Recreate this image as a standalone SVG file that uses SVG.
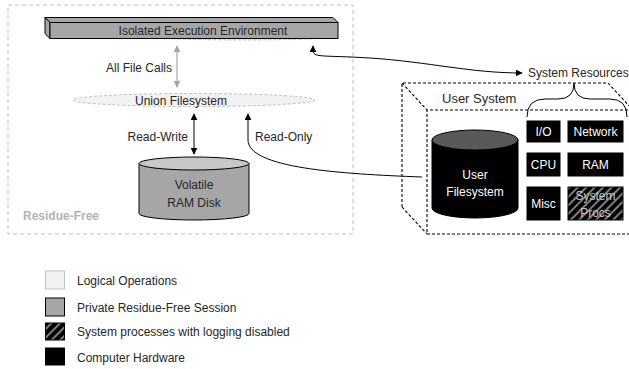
<svg xmlns="http://www.w3.org/2000/svg" width="629" height="369" viewBox="0 0 629 369">
<style>
text{font-family:"Liberation Sans",Arial,sans-serif;font-size:12px;fill:#262626}
.w{fill:#fff}
.c{text-anchor:middle}
.dash{fill:none;stroke:#000;stroke-width:1.1;stroke-dasharray:3 2}
.hw{fill:#000;stroke:#000}
.ln{fill:none;stroke:#000;stroke-width:1}
</style>
<defs>
<marker id="ab" viewBox="0 0 10 10" refX="9" refY="5" markerWidth="7" markerHeight="7" markerUnits="userSpaceOnUse" orient="auto-start-reverse"><path d="M0,0 L10,5 L0,10 z" fill="#000"/></marker>
<marker id="ag" viewBox="0 0 10 10" refX="9" refY="5" markerWidth="7" markerHeight="7" markerUnits="userSpaceOnUse" orient="auto-start-reverse"><path d="M0,0 L10,5 L0,10 z" fill="#a6a6a6"/></marker>
<pattern id="hatch" width="6" height="6" patternUnits="userSpaceOnUse" patternTransform="rotate(45)">
<rect width="6" height="6" fill="#000"/>
<rect x="0" y="0" width="2" height="6" fill="#7f7f7f"/>
</pattern>
</defs>

<g id="residue-free">
<rect x="8" y="5" width="345" height="229" fill="none" stroke="#bfbfbf" stroke-width="1" stroke-dasharray="4 3"/>
<text x="23" y="220" style="font-weight:bold;fill:#b3b3b3">Residue-Free</text>
</g>

<g id="hidden-ellipse">
<ellipse cx="244" cy="36.5" rx="92" ry="3.5" fill="#f2f2f2" stroke="#bfbfbf" stroke-dasharray="3 2"/>
</g>

<g id="isolated-env">
<polygon points="45,17.5 333,17.5 338,22.5 50,22.5" fill="#a6a6a6" stroke="#000" stroke-width="1"/>
<polygon points="45,17.5 50,22.5 50,38.5 45,33.5" fill="#a6a6a6" stroke="#000" stroke-width="1"/>
<rect x="50" y="22.5" width="288" height="16" fill="#a6a6a6" stroke="#000" stroke-width="1"/>
<text x="203" y="34.5" class="c">Isolated Execution Environment</text>
</g>

<g id="union-fs">
<ellipse cx="194" cy="100" rx="121" ry="6.5" fill="#f2f2f2" stroke="#bfbfbf" stroke-dasharray="3 2"/>
<text x="181" y="104.5" class="c">Union Filesystem</text>
</g>

<g id="ram-disk">
<path d="M139,163.5 L139,213.5 A55,6.5 0 0 0 249,213.5 L249,163.5 Z" fill="#a6a6a6" stroke="#000"/>
<ellipse cx="194" cy="163.5" rx="55" ry="6.5" fill="#c8c8c8" stroke="#000"/>
<text x="194" y="189" class="c">Volatile</text>
<text x="194" y="207" class="c">RAM Disk</text>
</g>

<g id="user-system">
<polyline points="402,207 402,83 608,83 633,110" class="dash"/>
<line x1="402" y1="83" x2="427" y2="110" class="dash"/>
<line x1="402" y1="207" x2="427" y2="234" class="dash"/>
<path d="M633,110 L427,110 L427,234 L633,234" class="dash"/>
<text x="442" y="103" style="font-size:13px">User System</text>
<path d="M527,117 Q527,99 545,99 L558,99 Q574,99 574,83 Q574,99 590,99 L610,99 Q627,99 627,117" fill="none" stroke="#000" stroke-width="1"/>
</g>

<g id="user-fs">
<path d="M432,140 L432,208 A43,10 0 0 0 518,208 L518,140 Z" fill="#000" stroke="#000"/>
<ellipse cx="475" cy="140" rx="43" ry="10" fill="#595959" stroke="#000"/>
<text x="475" y="179" class="c w">User</text>
<text x="475" y="196" class="c w">Filesystem</text>
</g>

<g id="io"><rect x="527" y="121" width="33" height="21" class="hw"/><text x="543.5" y="136" class="c w">I/O</text></g>
<g id="network"><rect x="568" y="121" width="55" height="21" class="hw"/><text x="595.5" y="136" class="c w">Network</text></g>
<g id="cpu"><rect x="527" y="153" width="33" height="23" class="hw"/><text x="543.5" y="169" class="c w">CPU</text></g>
<g id="ram"><rect x="568" y="153" width="55" height="23" class="hw"/><text x="595.5" y="169" class="c w">RAM</text></g>
<g id="misc"><rect x="527" y="187" width="33" height="33" class="hw"/><text x="543.5" y="208" class="c w">Misc</text></g>
<g id="system-procs"><rect x="568" y="187" width="55" height="33" fill="url(#hatch)" stroke="#000"/><text x="595.5" y="200" class="c" style="fill:#c8c8c8">System</text><text x="595.5" y="217" class="c" style="fill:#c8c8c8">Procs</text></g>

<g id="connectors">
<line x1="177" y1="46" x2="177" y2="87" fill="none" stroke="#a6a6a6" stroke-width="1.2" marker-start="url(#ag)" marker-end="url(#ag)"/>
<line x1="194" y1="114" x2="194" y2="154" class="ln" marker-start="url(#ab)" marker-end="url(#ab)"/>
<path d="M422,177 C340,174 248,168 248,140 L248,114" class="ln" marker-end="url(#ab)"/>
<path d="M313,46 L313,50 C313,58 320,55 370,58 C430,62 470,73 522,73" class="ln" marker-start="url(#ab)" marker-end="url(#ab)"/>
</g>

<g id="labels">
<text x="172" y="72" style="text-anchor:end">All File Calls</text>
<text x="188" y="141" style="text-anchor:end">Read-Write</text>
<text x="255" y="141">Read-Only</text>
<text x="528" y="77">System Resources</text>
</g>

<g id="legend">
<rect x="45.5" y="271" width="19" height="18" fill="#f2f2f2" stroke="#bfbfbf"/>
<text x="77" y="285">Logical Operations</text>
<rect x="45.5" y="298" width="19" height="18" fill="#a6a6a6" stroke="#000"/>
<text x="77" y="312">Private Residue-Free Session</text>
<rect x="45.5" y="323" width="19" height="17" fill="url(#hatch)" stroke="#000"/>
<text x="77" y="336">System processes with logging disabled</text>
<rect x="45.5" y="348" width="19" height="17" fill="#000" stroke="#000"/>
<text x="77" y="362">Computer Hardware</text>
</g>
</svg>
